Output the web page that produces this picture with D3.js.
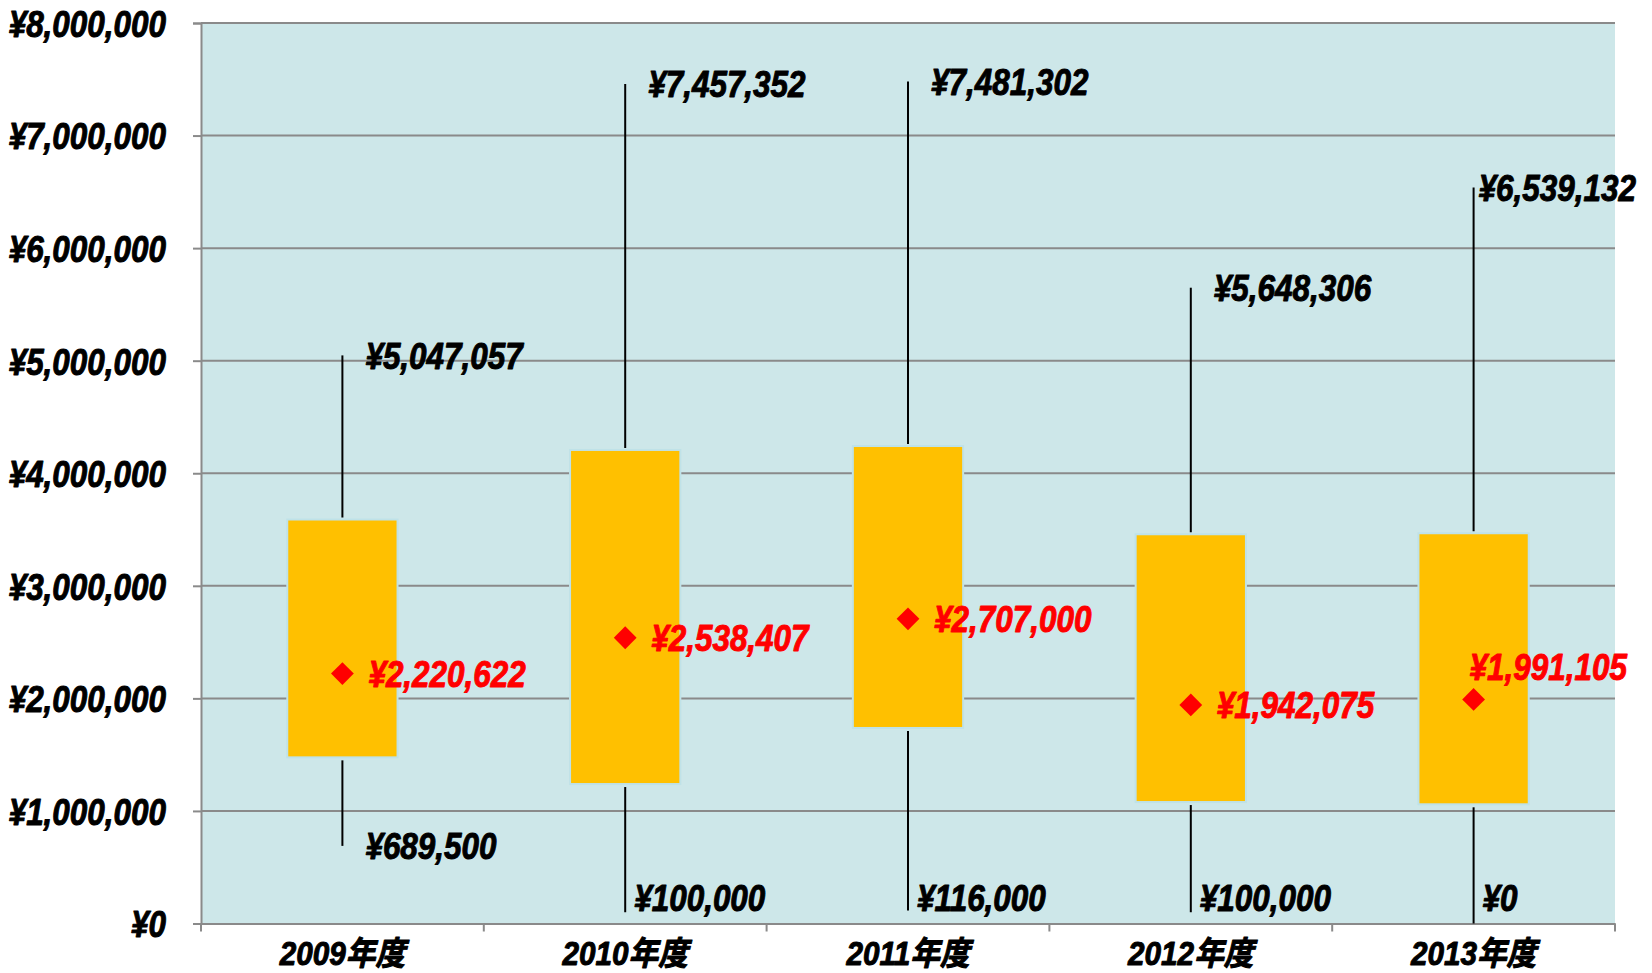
<!DOCTYPE html>
<html>
<head>
<meta charset="utf-8">
<script src="https://cdn.jsdelivr.net/npm/d3@7"></script>
<style>
  html, body { margin: 0; padding: 0; background: #ffffff; }
  svg { display: block; }
  .num { font-family: "Liberation Sans", "Noto Sans CJK JP", sans-serif; font-weight: bold; font-style: italic; stroke-width: 1px; stroke-linejoin: round; }
</style>
</head>
<body>
<svg id="chart" width="1652" height="973"></svg>
<script>
// ---- data ----
const categories = ["2009年度", "2010年度", "2011年度", "2012年度", "2013年度"];
const maxVals  = [5047057, 7457352, 7481302, 5648306, 6539132];
const q3Vals   = [3589000, 4207000, 4242000, 3458000, 3467000];
const q1Vals   = [1476000, 1239000, 1737000, 1079000, 1059000];
const minVals  = [689500, 100000, 116000, 100000, 0];
const meanVals = [2220622, 2538407, 2707000, 1942075, 1991105];
const meanLabelPlacement = ["right", "right", "right", "right", "above"];
const yTickValues = [0, 1000000, 2000000, 3000000, 4000000, 5000000, 6000000, 7000000, 8000000];

// ---- layout ----
const W = 1652, H = 973;
const plot = { left: 201, right: 1615, top: 23, bottom: 923.5 };
const SX = 0.85;     // horizontal squeeze for numeric labels
const SXC = 0.9;     // horizontal squeeze for category labels
const FS = 37;
const svg = d3.select("#chart");

const x = d3.scaleBand().domain(categories).range([plot.left, plot.right]).paddingInner(0).paddingOuter(0);
const y = d3.scaleLinear().domain([0, 8000000]).range([plot.bottom, plot.top]);
const fmt = v => "¥" + d3.format(",")(v);
const cx = c => x(c) + x.bandwidth() / 2;
const boxW = x.bandwidth() * 0.39;

// background
svg.append("rect")
  .attr("x", plot.left).attr("y", plot.top)
  .attr("width", plot.right - plot.left).attr("height", plot.bottom - plot.top)
  .attr("fill", "#cde7e9");

// gridlines
svg.append("g").selectAll("line").data(yTickValues.filter(v => v > 0)).join("line")
  .attr("x1", plot.left).attr("x2", plot.right)
  .attr("y1", d => y(d)).attr("y2", d => y(d))
  .attr("stroke", "#8a8a8a").attr("stroke-width", 2);

// y axis
const yAxis = d3.axisLeft(y).tickValues(yTickValues).tickSize(8).tickPadding(26).tickFormat(fmt);
const gy = svg.append("g").attr("transform", `translate(${plot.left},0)`).call(yAxis);
gy.select(".domain").attr("stroke", "#8a8a8a").attr("stroke-width", 2);
gy.selectAll(".tick line").attr("stroke", "#8a8a8a").attr("stroke-width", 2);
gy.selectAll(".tick text").attr("class", "num").attr("font-size", FS).attr("fill", "#000").attr("stroke", "#000")
  .attr("dy", "0.36em").attr("x", -35 / SX).attr("transform", `scale(${SX},1)`);

// x axis
const xAxis = d3.axisBottom(x).tickSize(0).tickPadding(0);
const gx = svg.append("g").attr("transform", `translate(0,${plot.bottom})`).call(xAxis);
gx.select(".domain").attr("stroke", "#8a8a8a").attr("stroke-width", 2);
gx.selectAll(".tick text").attr("class", "num").attr("font-size", 33).attr("fill", "#000").attr("stroke", "#000")
  .attr("y", 30).attr("dy", "0.36em").attr("x", 0).attr("transform", `scale(${SXC},1)`);
// category boundary ticks
const bounds = categories.map(c => x(c)).concat([plot.right]);
svg.append("g").selectAll("line").data(bounds).join("line")
  .attr("x1", d => d).attr("x2", d => d)
  .attr("y1", plot.bottom).attr("y2", plot.bottom + 8)
  .attr("stroke", "#8a8a8a").attr("stroke-width", 2);

// whiskers
const gW = svg.append("g");
categories.forEach((c, i) => {
  gW.append("line").attr("x1", cx(c)).attr("x2", cx(c))
    .attr("y1", y(maxVals[i])).attr("y2", y(q3Vals[i]) - 2)
    .attr("stroke", "#000").attr("stroke-width", 2);
  gW.append("line").attr("x1", cx(c)).attr("x2", cx(c))
    .attr("y1", y(q1Vals[i]) + 3).attr("y2", y(minVals[i]))
    .attr("stroke", "#000").attr("stroke-width", 2);
});

// boxes
svg.append("g").selectAll("rect").data(categories).join("rect")
  .attr("x", c => cx(c) - boxW / 2)
  .attr("width", boxW)
  .attr("y", (c, i) => y(q3Vals[i]))
  .attr("height", (c, i) => y(q1Vals[i]) - y(q3Vals[i]))
  .attr("fill", "#ffc000")
  .attr("stroke", "#bfe2e8").attr("stroke-width", 2);

// mean diamonds
svg.append("g").selectAll("path").data(categories).join("path")
  .attr("d", d3.symbol(d3.symbolSquare, 260))
  .attr("transform", (c, i) => `translate(${cx(c)},${y(meanVals[i])}) rotate(45)`)
  .attr("fill", "#ff0000");

// labels
const gL = svg.append("g");
function addLabel(txt, lx, ly, color) {
  const t = gL.append("text").attr("class", "num").attr("font-size", FS)
    .attr("dy", "0.36em").attr("fill", color).attr("stroke", color).text(txt);
  placeLabel(t, lx, ly);
  return t;
}
function placeLabel(t, lx, ly) {
  t.attr("transform", `translate(${lx},${ly}) scale(${SX},1)`).attr("x", 0).attr("y", 0);
}
const rightLimit = W - 17;
categories.forEach((c, i) => {
  // max
  const ymax = y(maxVals[i]);
  const tMax = addLabel(fmt(maxVals[i]), cx(c) + 23, ymax, "#000");
  const wMax = tMax.node().getComputedTextLength() * SX;
  if (cx(c) + 23 + wMax > rightLimit) placeLabel(tMax, Math.max(cx(c) + 5, rightLimit - wMax), ymax);
  // min
  let ymin = y(minVals[i]), xoff = 23;
  if (ymin > plot.bottom - 30) { ymin = plot.bottom - 26; xoff = 9; }
  addLabel(fmt(minVals[i]), cx(c) + xoff, ymin, "#000");
  // mean
  if (meanLabelPlacement[i] === "above") {
    addLabel(fmt(meanVals[i]), cx(c) - 4, y(meanVals[i]) - 33, "#ff0000");
  } else {
    addLabel(fmt(meanVals[i]), cx(c) + 26, y(meanVals[i]), "#ff0000");
  }
});
</script>
</body>
</html>
